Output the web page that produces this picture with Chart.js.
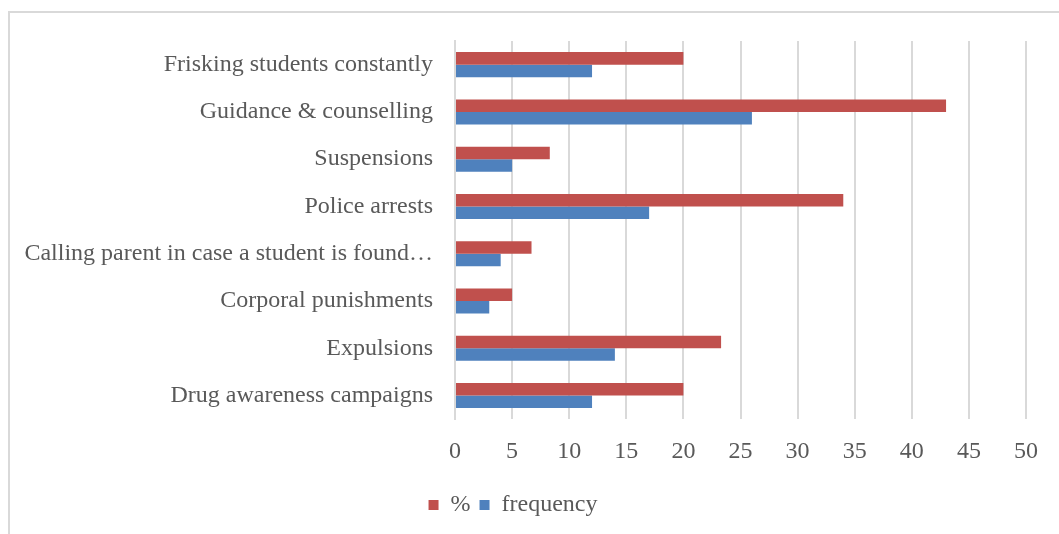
<!DOCTYPE html>
<html>
<head>
<meta charset="utf-8">
<script src="https://cdn.jsdelivr.net/npm/chart.js@4"></script>
<style>
  html, body { margin: 0; padding: 0; background: #fff; }
  body { width: 1059px; height: 534px; position: relative; overflow: hidden; }
  /* frame of the chart box (only top and left visible) */
  .frame { position: absolute; left: 8px; top: 11px; width: 1100px; height: 600px;
           border-left: 2px solid #d9d9d9; border-top: 2px solid #d9d9d9; }
  .wrap { position: absolute; left: 0; top: 0; width: 1059px; height: 534px; }
</style>
</head>
<body>
<div class="frame"></div>
<div class="wrap"><canvas id="chart"></canvas></div>
<script>
// Categories, top to bottom
const categories = [
	"Frisking students constantly",
	"Guidance & counselling",
	"Suspensions",
	"Police arrests",
	"Calling parent in case a student is found\u2026",
	"Corporal punishments",
	"Expulsions",
	"Drug awareness campaigns"
];

// Series values
const percent_values = [20, 43, 8.3, 34, 6.7, 5, 23.3, 20];
const frequency_values = [12, 26, 5, 17, 4, 3, 14, 12];

// X axis ticks
const x_min = 0, x_max = 50, x_step = 5;

const FONT = "'Liberation Serif', serif";
const FONT_SIZE = 24;
const TEXT_COLOR = "#595959";
const GRID_COLOR = "#d9d9d9";

const ctx = document.getElementById("chart").getContext("2d");

let my_chart = new Chart(ctx, {
	type: 'bar',
	data: {
		labels: categories,
		datasets: [{
			label: '%',
			data: percent_values,
			backgroundColor: '#c0504d',
			borderColor: '#c0504d',
			borderWidth: 0
		},
		{
			label: 'frequency',
			data: frequency_values,
			backgroundColor: '#4f81bd',
			borderColor: '#4f81bd',
			borderWidth: 0
		}]
	},
	options: {
		indexAxis: 'y',
		responsive: true,
		maintainAspectRatio: false,
		animation: false,
		categoryPercentage: 0.53,
		barPercentage: 1.0,
		layout: {
			padding: { left: 0, right: 33, top: 41, bottom: 7 }
		},
		scales: {
			x: {
				min: x_min,
				max: x_max,
				ticks: {
					stepSize: x_step,
					color: TEXT_COLOR,
					font: { family: FONT, size: FONT_SIZE },
					padding: 18
				},
				grid: {
					color: GRID_COLOR,
					lineWidth: 2,
					drawTicks: false
				},
				border: { display: false }
			},
			y: {
				ticks: {
					color: TEXT_COLOR,
					font: { family: FONT, size: FONT_SIZE },
					padding: 22
				},
				grid: { display: false, drawTicks: false },
				border: { display: true, color: GRID_COLOR, width: 2 },
				afterFit: function(scale) { scale.width = 455; }
			}
		},
		plugins: {
			legend: {
				position: 'bottom',
				labels: {
					color: TEXT_COLOR,
					font: { family: FONT, size: FONT_SIZE },
					boxWidth: 10,
					boxHeight: 10,
					padding: 9
				}
			},
			tooltip: { enabled: false }
		}
	}
});
</script>
</body>
</html>
